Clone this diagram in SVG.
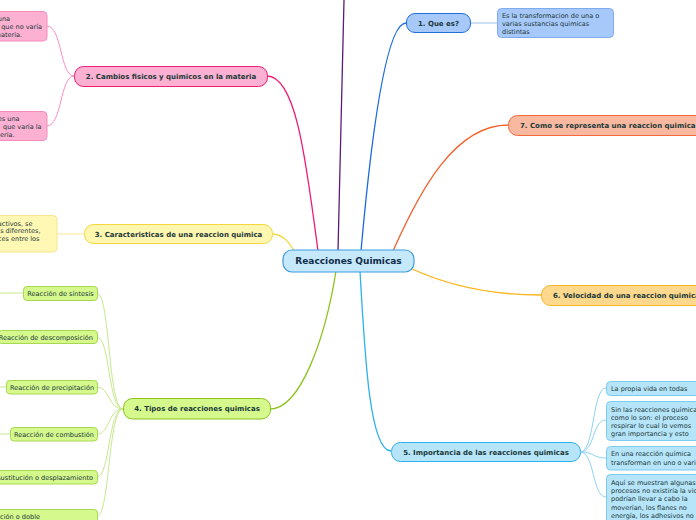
<svg xmlns="http://www.w3.org/2000/svg" width="696" height="520" viewBox="0 0 696 520">
<style>
  .t { font-family: "DejaVu Sans", Verdana, sans-serif; fill: #1a3838; }
  .b { font-size: 7px; font-weight: bold; text-anchor: middle; }
  .bl { font-size: 7px; font-weight: bold; text-anchor: start; }
  .c { font-size: 6.5px; }
  .s { font-size: 6.55px; text-anchor: middle; }
  .e { text-anchor: end; }
  .con { fill: none; stroke-width: 1.3; }
  .sub { fill: none; stroke-width: 1; }
</style>
<rect width="696" height="520" fill="#ffffff"/>
<g id="connectors">
  <path class="con" stroke="#5c1a7c" d="M338,251 C340,170 342,80 344,0"/>
  <path class="con" stroke="#ee1c74" d="M318,251 C306,160 296,76 267,76"/>
  <path class="con" stroke="#1a6ae0" d="M361,251 C370,150 385,23 406,23"/>
  <path class="con" stroke="#f4612c" d="M393,251 C420,190 455,125 508,125"/>
  <path class="con" stroke="#f2d83a" d="M294,251 C290,244 284,234 272,234"/>
  <path class="con" stroke="#fbb41a" d="M410,268 C440,282 480,295 541,295"/>
  <path class="con" stroke="#8cc21c" d="M336,271 C325,340 300,409 270,409"/>
  <path class="con" stroke="#2eb0ea" d="M360,271 C365,360 370,451 391,451"/>
  <path class="sub" stroke="#9fbff0" d="M470,23 L497,23"/>
  <path class="sub" stroke="#ff8cc0" d="M74,76 C60,76 62,26 47,26"/>
  <path class="sub" stroke="#ff8cc0" d="M74,76 C60,76 62,126 47,126"/>
  <path class="sub" stroke="#f8e890" d="M84,234 L57,234"/>
  <g stroke="#c8e890">
    <path class="sub" d="M123,409 C108,409 110,293 97,293"/>
    <path class="sub" d="M123,409 C108,409 110,337 97,337"/>
    <path class="sub" d="M123,409 C108,409 110,387 97,387"/>
    <path class="sub" d="M123,409 C108,409 110,434 97,434"/>
    <path class="sub" d="M123,409 C108,409 110,477 97,477"/>
    <path class="sub" d="M123,409 C108,409 110,516 97,516"/>
    <path class="sub" d="M0,293 L23,293"/>
    <path class="sub" d="M0,387 L6,387"/>
    <path class="sub" d="M0,434 L10,434"/>
  </g>
  <g stroke="#8ed4f4">
    <path class="sub" d="M580,452 C595,452 592,388 606,388"/>
    <path class="sub" d="M580,452 C595,452 592,420 606,420"/>
    <path class="sub" d="M580,452 C595,452 592,458 606,458"/>
    <path class="sub" d="M580,452 C595,452 592,497 606,497"/>
  </g>
</g>
<g id="center">
  <rect x="283" y="250" width="131" height="22" rx="9" fill="#c5e8fb" stroke="#3d9ee0" stroke-width="1.2"/>
  <text x="348.5" y="264.3" font-family="DejaVu Sans, Verdana, sans-serif" font-size="9" font-weight="bold" fill="#0f2c48" text-anchor="middle">Reacciones Quimicas</text>
</g>
<g id="n1">
  <rect x="406.5" y="13.5" width="64" height="19" rx="8.5" fill="#a7c9f9" stroke="#1e6fe0"/>
  <text class="t b" x="438.5" y="25.5">1. Que es?</text>
</g>
<g id="n1a">
  <rect x="497.5" y="8.5" width="116" height="29" rx="4" fill="#a7c9f9" stroke="#7eaaee"/>
  <text class="t c" x="502" y="17.5">Es la transformacion de una o</text>
  <text class="t c" x="502" y="26">varias sustancias quimicas</text>
  <text class="t c" x="502" y="34">distintas</text>
</g>
<g id="n2">
  <rect x="74.5" y="66.5" width="193" height="20" rx="9" fill="#fcb0d2" stroke="#ee1c74"/>
  <text class="t b" x="171" y="79">2. Cambios fisicos y quimicos en la materia</text>
</g>
<g id="n2a">
  <rect x="-10" y="11.5" width="57" height="29.5" rx="4" fill="#fcb0d2" stroke="#f58cbc"/>
  <text class="t c e" x="10" y="21">una</text>
  <text class="t c e" x="42" y="29">que no varía</text>
  <text class="t c e" x="22" y="36.5">materia.</text>
</g>
<g id="n2b">
  <rect x="-10" y="111.5" width="57" height="29" rx="4" fill="#fcb0d2" stroke="#f58cbc"/>
  <text class="t c e" x="19.5" y="120.5">es una</text>
  <text class="t c e" x="41.5" y="129">que varía la</text>
  <text class="t c e" x="14.5" y="137">eria.</text>
</g>
<g id="n3">
  <rect x="84.5" y="224.5" width="188" height="19" rx="9" fill="#fff6b0" stroke="#f2d83a"/>
  <text class="t b" x="178.5" y="236.5">3. Caracteristicas de una reaccion quimica</text>
</g>
<g id="n3a">
  <rect x="-10" y="215.5" width="67" height="36.5" rx="4" fill="#fff8b4" stroke="#f8e48c"/>
  <text class="t c e" x="32.5" y="225.5">activos, se</text>
  <text class="t c e" x="40.5" y="233">s diferentes,</text>
  <text class="t c e" x="39.5" y="240.5">ces entre los</text>
</g>
<g id="n4">
  <rect x="123.5" y="398.5" width="147" height="20.5" rx="9" fill="#d6f98e" stroke="#8cc21c"/>
  <text class="t b" x="197" y="411.3">4. Tipos de reacciones quimicas</text>
</g>
<g id="n4a">
  <rect x="23.5" y="286.5" width="74" height="14" rx="3.5" fill="#d6f98e" stroke="#a8d850"/>
  <text class="t s" x="60.5" y="296">Reacción de síntesis</text>
</g>
<g id="n4b">
  <rect x="-2" y="330.5" width="99.5" height="13" rx="3.5" fill="#d6f98e" stroke="#a8d850"/>
  <text class="t s e" x="93" y="339.5">Reacción de descomposición</text>
</g>
<g id="n4c">
  <rect x="6.5" y="380.5" width="91" height="13.5" rx="3.5" fill="#d6f98e" stroke="#a8d850"/>
  <text class="t s" x="52" y="390">Reacción de precipitación</text>
</g>
<g id="n4d">
  <rect x="10.5" y="427.5" width="87" height="13.5" rx="3.5" fill="#d6f98e" stroke="#a8d850"/>
  <text class="t s" x="54" y="437">Reacción de combustión</text>
</g>
<g id="n4e">
  <rect x="-10" y="470.5" width="107.5" height="13.5" rx="3.5" fill="#d6f98e" stroke="#a8d850"/>
  <text class="t s e" x="93" y="480">sustitución o desplazamiento</text>
</g>
<g id="n4f">
  <rect x="-10" y="509.5" width="107.5" height="20" rx="3.5" fill="#d6f98e" stroke="#a8d850"/>
  <text class="t s e" x="40" y="519">ación o doble</text>
</g>
<g id="n5">
  <rect x="391.5" y="442.5" width="189" height="19" rx="9" fill="#b6e5fa" stroke="#2eb0ea"/>
  <text class="t b" x="486" y="454.5">5. Importancia de las reacciones quimicas</text>
</g>
<g id="n5a">
  <rect x="606.5" y="381.5" width="100" height="14" rx="4" fill="#b6e5fa" stroke="#7cccf0"/>
  <text class="t c" x="611" y="391.3">La propia vida en todas</text>
</g>
<g id="n5b">
  <rect x="606.5" y="401.5" width="100" height="39" rx="4" fill="#b6e5fa" stroke="#7cccf0"/>
  <text class="t c" x="611" y="411.7">Sin las reacciones químicas</text>
  <text class="t c" x="611" y="419.7">como lo son: el proceso</text>
  <text class="t c" x="611" y="428">respirar lo cual lo vemos</text>
  <text class="t c" x="611" y="435.8">gran importancia y esto</text>
</g>
<g id="n5c">
  <rect x="606.5" y="446.5" width="100" height="23.5" rx="4" fill="#b6e5fa" stroke="#7cccf0"/>
  <text class="t c" x="611" y="456.3">En una reacción química</text>
  <text class="t c" x="611" y="464.6">transforman en uno o varios</text>
</g>
<g id="n5d">
  <rect x="606.5" y="474.5" width="100" height="55" rx="4" fill="#b6e5fa" stroke="#7cccf0"/>
  <text class="t c" x="611" y="484.6">Aquí se muestran algunas</text>
  <text class="t c" x="611" y="493">procesos no existiría la vida</text>
  <text class="t c" x="611" y="501.3">podrían llevar a cabo la</text>
  <text class="t c" x="611" y="509.6">moverían, los flanes no</text>
  <text class="t c" x="611" y="518">energía, los adhesivos no</text>
</g>
<g id="n6">
  <rect x="541.5" y="285.5" width="170" height="20" rx="9" fill="#fed88c" stroke="#f5b526"/>
  <text class="t bl" x="553" y="298">6. Velocidad de una reaccion quimica</text>
</g>
<g id="n7">
  <rect x="508.5" y="115.5" width="200" height="20" rx="9" fill="#f9b9a0" stroke="#f26a3a"/>
  <text class="t bl" x="520" y="128">7. Como se representa una reaccion quimica</text>
</g>
</svg>
